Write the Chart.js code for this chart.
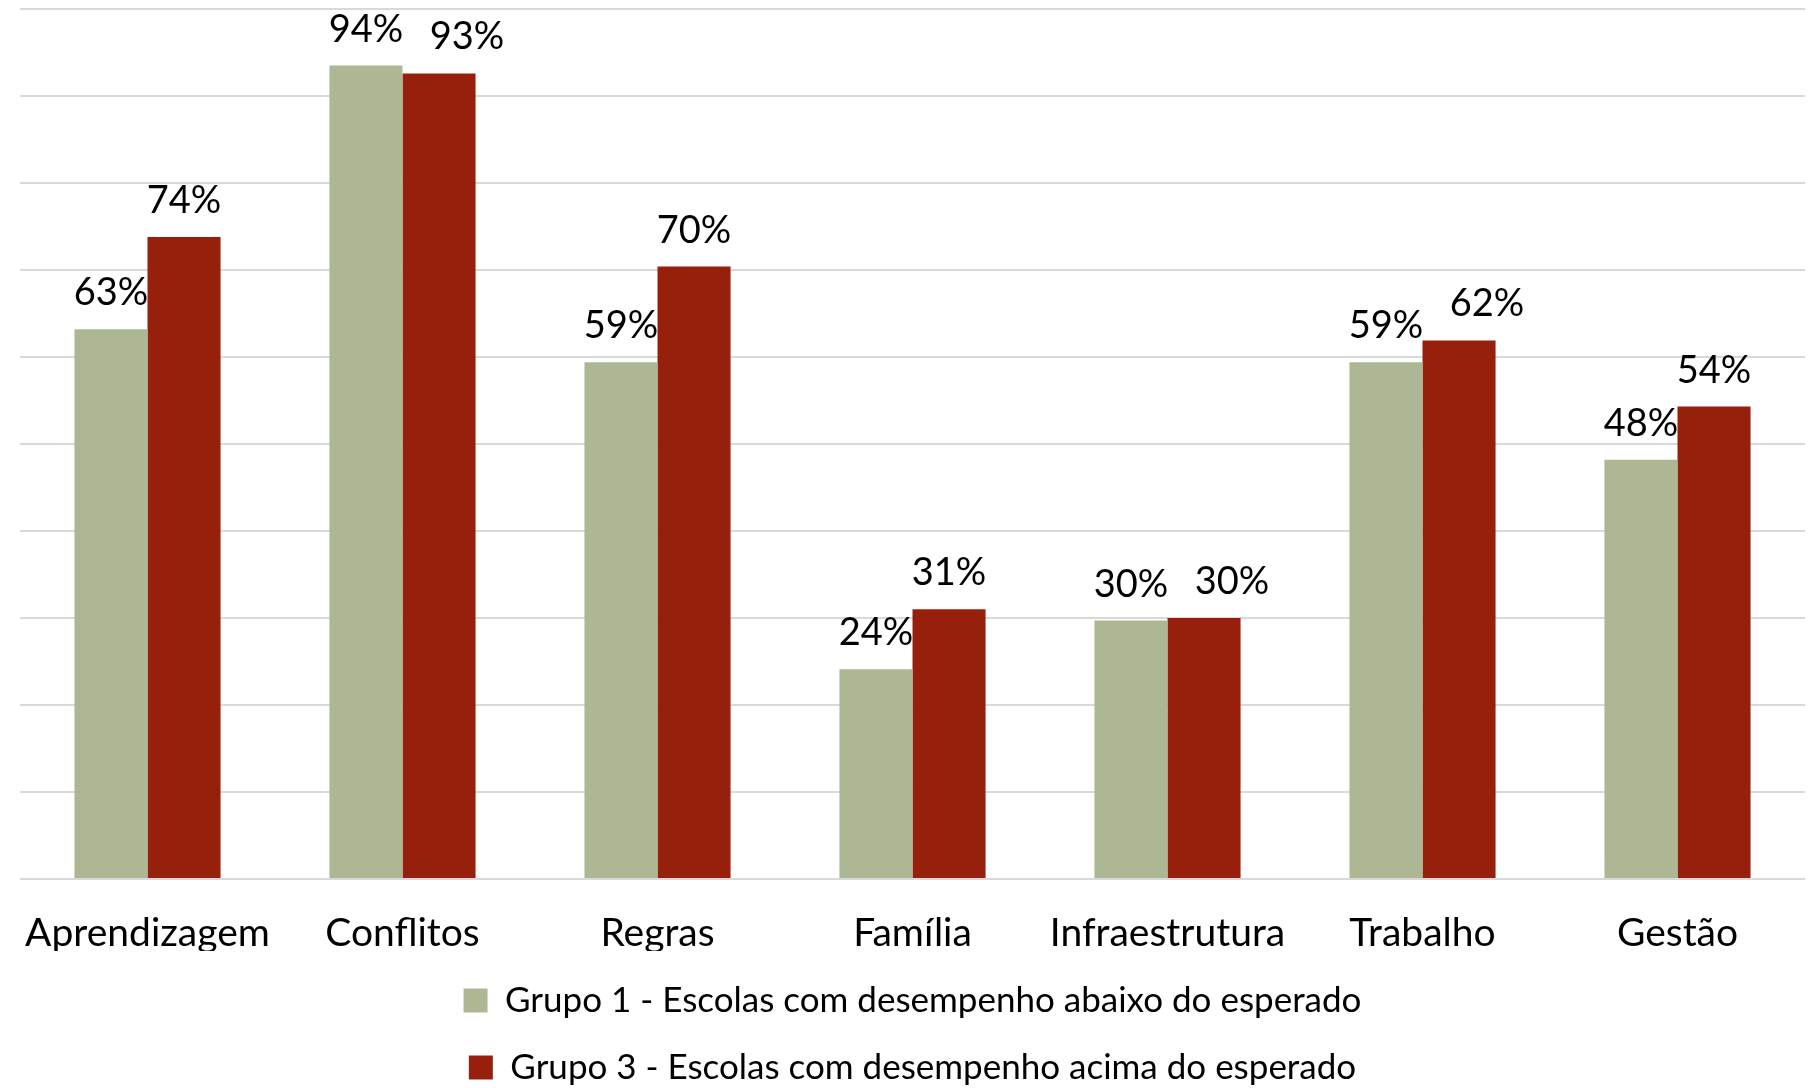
<!DOCTYPE html>
<html>
<head>
<meta charset="utf-8">
<script src="https://cdn.jsdelivr.net/npm/chart.js@4.4.1/dist/chart.umd.min.js"></script>
<style>
  html, body { margin: 0; padding: 0; background: #fff; }
  #wrap { width: 1814px; height: 1088px; }
</style>
</head>
<body>
<div id="wrap"><canvas id="mycanvas"></canvas></div>
<script>
// categories and values (percent)
var categorias = ["Aprendizagem", "Conflitos", "Regras", "Família", "Infraestrutura", "Trabalho", "Gestão"];
var grupo1 = [63.2, 93.5, 59.4, 24.1, 29.7, 59.4, 48.2];
var grupo3 = [73.8, 92.6, 70.4, 31.0, 30.0, 61.9, 54.3];
var nomeGrupo1 = "Grupo 1 - Escolas com desempenho abaixo do esperado";
var nomeGrupo3 = "Grupo 3 - Escolas com desempenho acima do esperado";

var fonte = "Lato, 'Open Sans', sans-serif";

// draws the % labels over each bar
// (when the two labels of a category would collide, the second one is pushed right)
var rotulos = {
  id: 'rotulos',
  afterDatasetsDraw: function(chart) {
    var ctx = chart.ctx;
    ctx.save();
    ctx.font = "38px " + fonte;
    ctx.fillStyle = "#000";
    ctx.textAlign = "center";
    ctx.textBaseline = "alphabetic";
    var m0 = chart.getDatasetMeta(0);
    chart.data.datasets.forEach(function(ds, i) {
      var meta = chart.getDatasetMeta(i);
      meta.data.forEach(function(bar, j) {
        var dx = 0;
        if (i > 0 && Math.abs(bar.y - m0.data[j].y) < 35) dx = 28;
        ctx.fillText(Math.round(ds.data[j]) + "%", bar.x + dx, bar.y - 24);
      });
    });
    ctx.restore();
  }
};

var chartdata = {
  labels: categorias,
  datasets: [
    {
      label: nomeGrupo1,
      backgroundColor: "#adb794",
      data: grupo1
    },
    {
      label: nomeGrupo3,
      backgroundColor: "#97200d",
      data: grupo3
    }
  ]
};

var ctx = document.getElementById("mycanvas");

var graph = new Chart(ctx, {
  type: 'bar',
  data: chartdata,
  plugins: [rotulos],
  options: {
    responsive: true,
    maintainAspectRatio: false,
    animation: false,
    layout: { padding: { top: 9, left: 20, right: 9, bottom: -7 } },
    datasets: { bar: { categoryPercentage: 0.573, barPercentage: 1.0 } },
    scales: {
      x: {
        grid: { display: false, drawTicks: false },
        border: { display: false },
        ticks: { color: "#000", font: { family: fonte, size: 39, lineHeight: 0.9 }, padding: 37, maxRotation: 0 },
        afterFit: function(scale) {
          scale.height = 72;
          scale.paddingLeft = 0;
          scale.paddingRight = 0;
        }
      },
      y: {
        min: 0,
        max: 100,
        ticks: { display: false, stepSize: 10 },
        grid: { color: "#d9d9d9", lineWidth: 2, drawTicks: false },
        border: { display: false }
      }
    },
    plugins: {
      tooltip: { enabled: false },
      legend: {
        position: 'bottom',
        labels: {
          color: "#000",
          font: { family: fonte, size: 35 },
          boxWidth: 24,
          boxHeight: 24,
          padding: 32
        }
      }
    }
  }
});
</script>
</body>
</html>
